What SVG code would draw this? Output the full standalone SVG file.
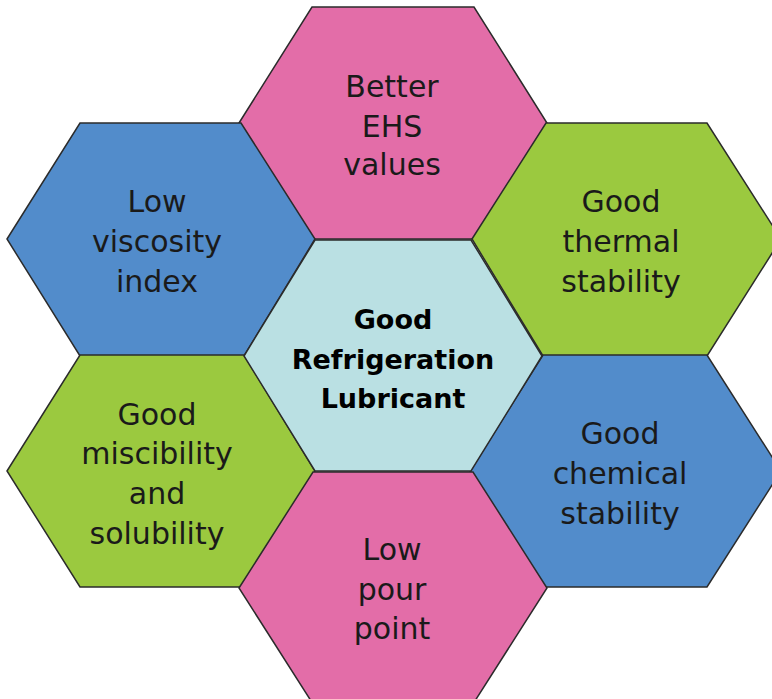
<svg xmlns="http://www.w3.org/2000/svg" width="772" height="699" viewBox="0 0 772 699">
<style>
.hex{stroke:#2b2b2b;stroke-width:1.5;stroke-linejoin:miter}
.pink{fill:#E36DA8}
.blue{fill:#528CCB}
.green{fill:#9BC93F}
.core{fill:#BAE0E3}
.lbl{font-family:"DejaVu Sans","Liberation Sans",sans-serif;font-size:30px;fill:#1a1a1a;text-anchor:middle}
.bold{font-weight:bold;font-size:27px;fill:#000}
</style>
<rect width="772" height="699" fill="#ffffff"/>
<g id="hex-top">
<polygon class="hex pink" points="239,123 312,7 474,7 547,123 474,239 312,239"/>
<text class="lbl"><tspan x="392" y="97">Better</tspan><tspan x="392" y="137">EHS</tspan><tspan x="392" y="175">values</tspan></text>
</g>
<g id="hex-left-top">
<polygon class="hex blue" points="7,239 80,123 241,123 315,239 244,356 80,356"/>
<text class="lbl"><tspan x="157" y="212">Low</tspan><tspan x="157" y="252">viscosity</tspan><tspan x="157" y="292">index</tspan></text>
</g>
<g id="hex-right-top">
<polygon class="hex green" points="472,239 546,123 707,123 781,239 707,356 543,356"/>
<text class="lbl"><tspan x="621" y="212">Good</tspan><tspan x="621" y="252">thermal</tspan><tspan x="621" y="292">stability</tspan></text>
</g>
<g id="hex-left-bottom">
<polygon class="hex green" points="7,471 80,355 244,355 315,471 243,587 80,587"/>
<text class="lbl"><tspan x="157" y="425">Good</tspan><tspan x="157" y="464">miscibility</tspan><tspan x="157" y="504">and</tspan><tspan x="157" y="544">solubility</tspan></text>
</g>
<g id="hex-right-bottom">
<polygon class="hex blue" points="470,471 543,355 707,355 781,471 707,587 544,587"/>
<text class="lbl"><tspan x="620" y="444">Good</tspan><tspan x="620" y="484">chemical</tspan><tspan x="620" y="524">stability</tspan></text>
</g>
<g id="hex-bottom">
<polygon class="hex pink" points="239,588 313,472 473,472 547,588 473,704 313,704"/>
<text class="lbl"><tspan x="392" y="560">Low</tspan><tspan x="392" y="600">pour</tspan><tspan x="392" y="639">point</tspan></text>
</g>
<g id="hex-center">
<polygon class="hex core" points="244,356 315,240 471,240 542,356 471,471 315,471"/>
<text class="lbl bold"><tspan x="393" y="329">Good</tspan><tspan x="393" y="369">Refrigeration</tspan><tspan x="393" y="408">Lubricant</tspan></text>
</g>
<g id="connectors"></g>
</svg>
